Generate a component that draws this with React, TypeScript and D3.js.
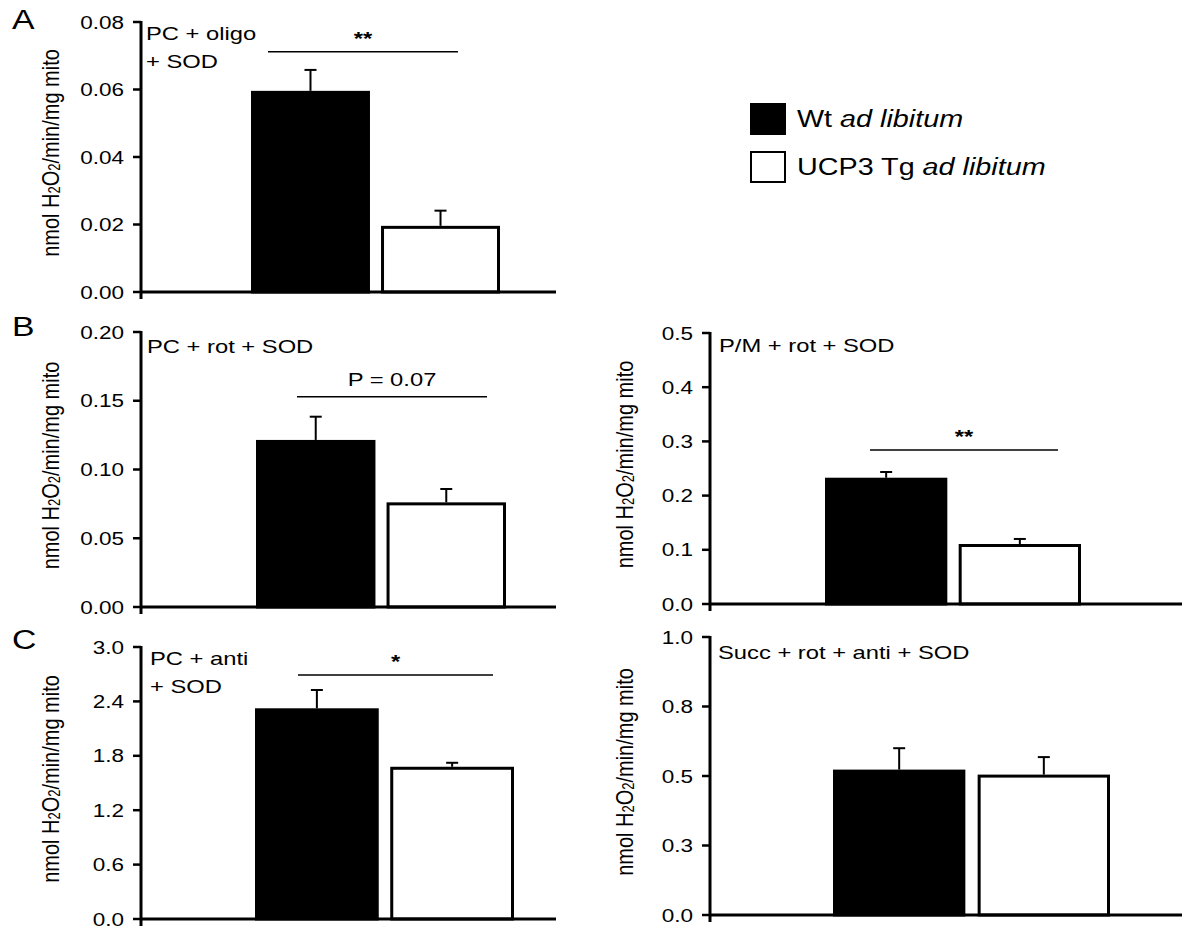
import React from 'react';
import * as d3 from 'd3';

// H2O2 production, Wt vs UCP3 Tg (ad libitum)
const groupNames = ['Wt', 'UCP3 Tg'];
const groupSuffix = 'ad libitum';
const panelLetters = ['A', 'B', '', 'C', ''];
const conditionLines = [
  ['PC + oligo', '+ SOD'],
  ['PC + rot + SOD'],
  ['P/M + rot + SOD'],
  ['PC + anti', '+ SOD'],
  ['Succ + rot + anti + SOD'],
];
const wtMean = [0.0596, 0.1215, 0.233, 2.324, 0.523];
const wtErr = [0.0062, 0.0169, 0.0105, 0.202, 0.077];
const tgMean = [0.0196, 0.0761, 0.1107, 1.679, 0.505];
const tgErr = [0.0045, 0.0097, 0.0093, 0.044, 0.063];
const yMax = [0.08, 0.2, 0.5, 3.0, 1.0];
const yTicks = [
  [0, 0.02, 0.04, 0.06, 0.08],
  [0, 0.05, 0.1, 0.15, 0.2],
  [0, 0.1, 0.2, 0.3, 0.4, 0.5],
  [0, 0.6, 1.2, 1.8, 2.4, 3.0],
  [0, 0.25, 0.5, 0.75, 1.0],
];
const yTickLabels = [
  ['0.00', '0.02', '0.04', '0.06', '0.08'],
  ['0.00', '0.05', '0.10', '0.15', '0.20'],
  ['0.0', '0.1', '0.2', '0.3', '0.4', '0.5'],
  ['0.0', '0.6', '1.2', '1.8', '2.4', '3.0'],
  ['0.0', '0.3', '0.5', '0.8', '1.0'],
];
const sigLabels = ['**', 'P = 0.07', '**', '*', null];
const sigLevel = [0.0712, 0.153, 0.284, 2.69, null];

// layout of each panel (pixels)
const layout = [
  { axisX: 141, top: 22, bottom: 292, xEnd: 556, bars: [251, 500], sig: [268, 458], labelX: 146, labelY: 40, letterY: 29, titleX: 59 },
  { axisX: 141, top: 332, bottom: 607, xEnd: 556, bars: [256, 506], sig: [297, 487], labelX: 147, labelY: 353, letterY: 336, titleX: 59 },
  { axisX: 710, top: 333, bottom: 604, xEnd: 1182, bars: [825, 1081], sig: [870, 1058], labelX: 719, labelY: 352, letterY: 0, titleX: 633 },
  { axisX: 141, top: 647, bottom: 919, xEnd: 556, bars: [255, 514], sig: [298, 493], labelX: 150, labelY: 665, letterY: 649, titleX: 59 },
  { axisX: 710, top: 637, bottom: 915, xEnd: 1182, bars: [833, 1110], sig: [0, 0], labelX: 718, labelY: 659, letterY: 0, titleX: 633 },
];

const FONT = '"Liberation Sans", Arial, Helvetica, sans-serif';
const SX = 1.25; // the figure's type is wider than it is tall

function SText({ x, y, size, anchor = 'start', weight = 'normal', children }: any) {
  return (
    <text
      transform={`translate(${x},${y}) scale(${SX},1)`}
      fontSize={size}
      fontFamily={FONT}
      textAnchor={anchor}
      fontWeight={weight}
      fill="#000"
    >
      {children}
    </text>
  );
}

function Panel({ i }: { i: number }) {
  const L = layout[i];
  const y = d3.scaleLinear().domain([0, yMax[i]]).range([L.bottom, L.top]);
  const x = d3.scaleBand().domain(groupNames).range(L.bars).paddingInner(0.085).paddingOuter(0);
  const means = [wtMean[i], tgMean[i]];
  const errs = [wtErr[i], tgErr[i]];
  const midY = (L.top + L.bottom) / 2 - 4;

  return (
    <g>
      {panelLetters[i] && (
        <SText x={12} y={L.letterY} size={27}>{panelLetters[i]}</SText>
      )}

      {/* y title */}
      <text
        transform={`translate(${L.titleX},${midY}) rotate(-90) scale(1,1.2)`}
        fontSize={20}
        fontFamily={FONT}
        textAnchor="middle"
      >
        nmol H<tspan fontSize={13} dy={1}>2</tspan>
        <tspan dy={-1}>O</tspan>
        <tspan fontSize={13} dy={1}>2</tspan>
        <tspan dy={-1}>/min/mg mito</tspan>
      </text>

      {/* bars */}
      {groupNames.map((g, k) => {
        const bx = x(g)!;
        const bw = x.bandwidth();
        const top = y(means[k]);
        const cx = bx + bw / 2;
        return (
          <g key={g}>
            <line x1={cx} x2={cx} y1={top} y2={y(means[k] + errs[k])} stroke="#000" strokeWidth={2} />
            <line x1={cx - 6} x2={cx + 6} y1={y(means[k] + errs[k])} y2={y(means[k] + errs[k])} stroke="#000" strokeWidth={2} />
            <rect
              x={bx + 1.5}
              y={top + 1.5}
              width={bw - 3}
              height={L.bottom - top - 1.5}
              fill={k === 0 ? '#000' : '#fff'}
              stroke="#000"
              strokeWidth={3}
            />
          </g>
        );
      })}

      {/* axes */}
      <line x1={L.axisX} x2={L.xEnd} y1={L.bottom} y2={L.bottom} stroke="#000" strokeWidth={3} />
      <line x1={L.axisX} x2={L.axisX} y1={L.top - 1} y2={L.bottom + 7} stroke="#000" strokeWidth={3} />
      {yTicks[i].map((t, k) => (
        <g key={t}>
          <line x1={L.axisX - 8} x2={L.axisX} y1={y(t)} y2={y(t)} stroke="#000" strokeWidth={2.5} />
          <SText x={L.axisX - 17} y={y(t) + 6.5} size={18} anchor="end">{yTickLabels[i][k]}</SText>
        </g>
      ))}

      {/* condition label */}
      {conditionLines[i].map((s, k) => (
        <SText key={s} x={L.labelX} y={L.labelY + k * 28} size={19}>{s}</SText>
      ))}

      {/* significance */}
      {sigLabels[i] && sigLevel[i] !== null && (
        <g>
          <line x1={L.sig[0]} x2={L.sig[1]} y1={y(sigLevel[i]!)} y2={y(sigLevel[i]!)} stroke="#000" strokeWidth={1.5} />
          <SText
            x={(L.sig[0] + L.sig[1]) / 2}
            y={y(sigLevel[i]!) - (sigLabels[i] === 'P = 0.07' ? 11 : 7)}
            size={19}
            anchor="middle"
            weight={sigLabels[i] === 'P = 0.07' ? 'normal' : 'bold'}
          >
            {sigLabels[i]}
          </SText>
        </g>
      )}
    </g>
  );
}

export default function App() {
  return (
    <svg
      width={1188}
      height={933}
      style={{ position: 'absolute', left: 0, top: 0, background: '#fff' }}
    >
      <rect width={1188} height={933} fill="#fff" />
      {layout.map((_, i) => (
        <Panel key={i} i={i} />
      ))}

      {/* legend */}
      {groupNames.map((g, k) => (
        <g key={g}>
          <rect
            x={751}
            y={104 + k * 48}
            width={34}
            height={30}
            fill={k === 0 ? '#000' : '#fff'}
            stroke="#000"
            strokeWidth={2}
          />
          <SText x={797} y={127 + k * 48} size={23}>
            {g} <tspan fontStyle="italic">{groupSuffix}</tspan>
          </SText>
        </g>
      ))}
    </svg>
  );
}
